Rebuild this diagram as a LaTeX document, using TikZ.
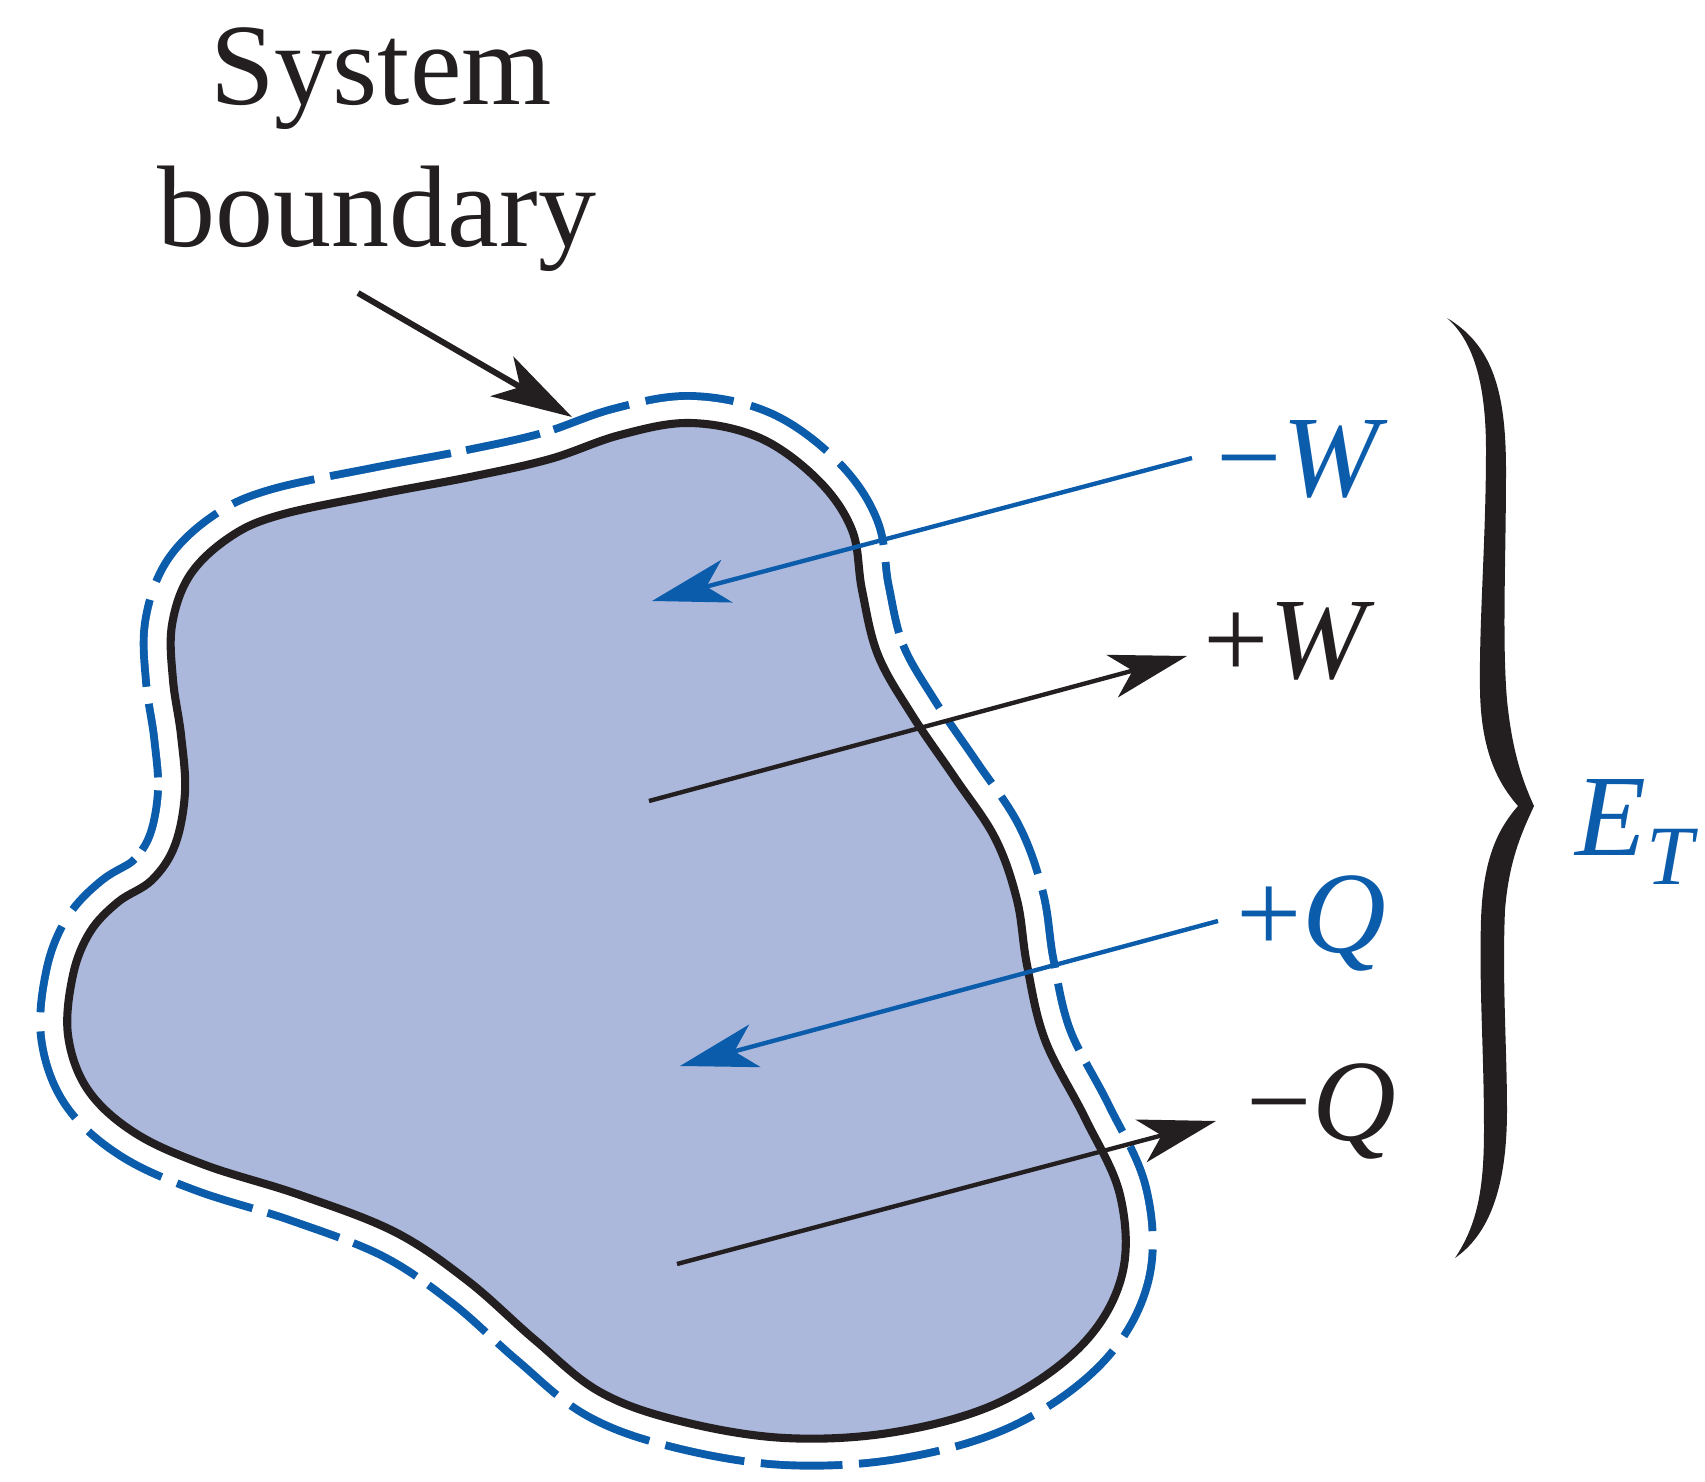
\documentclass[tikz,border=0pt]{standalone}
\usepackage{fontspec}
\setmainfont{Liberation Serif}
\usetikzlibrary{arrows.meta}
\definecolor{sysblue}{RGB}{12,92,172}
\definecolor{fillblue}{RGB}{171,184,219}
\definecolor{ink}{RGB}{35,31,32}
\tikzset{
  lbl/.style={font=\fontsize{33}{40}\selectfont, inner sep=0pt, anchor=base west},
  sysfont/.style={font=\fontsize{33}{40}\selectfont, inner sep=0pt, anchor=base, text=ink},
  flow/.style={line width=1.25pt, -{Stealth[length=22pt,width=12.5pt,inset=6pt]}},
  pointer/.style={line width=1.7pt, draw=ink, -{Stealth[length=23pt,width=13pt,inset=6pt]}},
}
\begin{document}
\begin{tikzpicture}[x=0.01cm,y=-0.01cm]
\useasboundingbox (0,0) rectangle (1705,1482);
\def\blob{plot[smooth cycle, tension=0.6] coordinates {(280,515) (380,494) (470,477) (550,459) (620,435) (690,423) (760,438) (818,480) (852,530) (862,590) (878,655) (912,715) (955,778) (995,838) (1017,900) (1027,965) (1045,1040) (1085,1118) (1120,1195) (1122,1275) (1082,1345) (1000,1402) (895,1432) (785,1438) (680,1421) (600,1392) (535,1340) (468,1281) (395,1232) (300,1195) (205,1165) (135,1133) (88,1090) (68,1035) (73,975) (90,932) (118,902) (152,880) (175,845) (185,792) (181,735) (173,680) (172,625) (190,575) (230,537)}}
% dashed system boundary drawn as offset strip
\draw[sysblue, line width=17.6pt, line cap=butt, dash pattern=on 22pt off 4.5pt] \blob;
\draw[white, line width=13.1pt] \blob;
\draw[fill=fillblue, draw=ink, line width=2.3pt] \blob;

% labels
\node[sysfont] (sys1) at (381,105) {System};
\node[sysfont] (sys2) at (377,247) {boundary};
\node[lbl, text=sysblue] (lWm) at (1216,496) {−\textit{W}};
\node[lbl, text=ink] (lWp) at (1203,679) {+\textit{W}};
\node[lbl, text=sysblue] (lQp) at (1236,952) {+\textit{Q}};
\node[lbl, text=ink] (lQm) at (1246,1140) {−\textit{Q}};
\node[lbl, text=sysblue] (lE) at (1575,855) {\textit{E}\raisebox{-8.5pt}{\fontsize{24}{24}\selectfont\textit{T}}};

% arrows
\coordinate (bs) at (358,293);
\coordinate (be) at (572,417);
\draw[pointer] (bs) -- (be);
\coordinate (wm0) at (1192,458); \coordinate (wm1) at (652,601);
\draw[flow, sysblue] (wm0) -- (wm1);
\coordinate (wp0) at (649,801); \coordinate (wp1) at (1187,656);
\draw[flow, ink] (wp0) -- (wp1);
\coordinate (qp0) at (1218,921); \coordinate (qp1) at (680,1066);
\draw[flow, sysblue] (qp0) -- (qp1);
\coordinate (qm0) at (677,1264); \coordinate (qm1) at (1216,1121);
\draw[flow, ink] (qm0) -- (qm1);

% brace
\fill[ink] (1447,318) .. controls (1492,345) and (1506,390) .. (1506,470)
  .. controls (1506,560) and (1502,640) .. (1507,700)
  .. controls (1512,750) and (1522,780) .. (1534,806)
  .. controls (1522,832) and (1509,860) .. (1505,910)
  .. controls (1502,980) and (1507,1050) .. (1507,1110)
  .. controls (1507,1190) and (1488,1235) .. (1455,1258)
  .. controls (1477,1225) and (1484,1190) .. (1484,1130)
  .. controls (1484,1050) and (1479,990) .. (1481,920)
  .. controls (1483,860) and (1497,830) .. (1518,806)
  .. controls (1497,782) and (1481,750) .. (1480,690)
  .. controls (1479,620) and (1486,540) .. (1486,450)
  .. controls (1486,380) and (1472,340) .. (1447,318) -- cycle;
\end{tikzpicture}
\end{document}
